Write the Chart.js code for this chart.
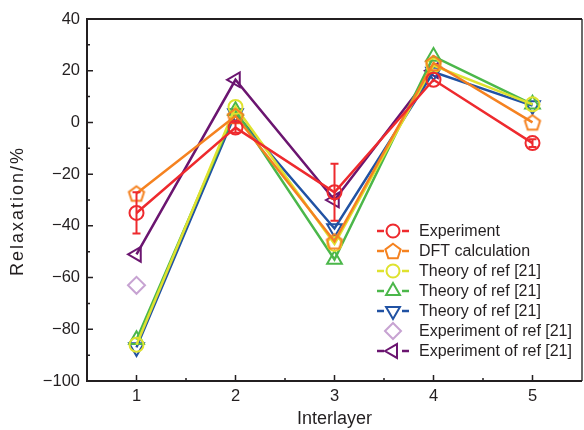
<!DOCTYPE html>
<html>
<head>
<meta charset="utf-8">
<script src="https://cdn.jsdelivr.net/npm/chart.js@4"></script>
<style>
  html, body { margin: 0; padding: 0; background: #fff; }
</style>
</head>
<body>
<canvas id="chart" width="584" height="430"></canvas>
<script>
// values
const interlayers = [1, 2, 3, 4, 5];
const experiment = [-35, -2, -27, 16.5, -8];
const experimentErr = [8, 2, 11, 0, 1.5];
const dftCalc = [-27.5, 2.5, -46, 23, 0];
const theoryCircle = [-86, 6, -47, 22, 7];
const theoryUp = [-84, 4.5, -53, 25.5, 7];
const theoryDown = [-87, 3.5, -41, 19.5, 6.5];
const expRefDiamond = [-63];
const expRefLeft = [-51, 16.5, -30, 20];

const xTicks = [1, 2, 3, 4, 5];
const yTicks = [-100, -80, -60, -40, -20, 0, 20, 40];

const FONT = '"Liberation Sans", Arial, sans-serif';
const AXIS = '#231f20';

// pentagon marker as an image, Chart.js has none built in
function pentagon(color, r) {
  const c = document.createElement('canvas');
  const s = Math.ceil(r * 2 + 4);
  c.width = s; c.height = s;
  const g = c.getContext('2d');
  g.strokeStyle = color;
  g.lineWidth = 2;
  g.beginPath();
  for (let i = 0; i < 5; i++) {
    const a = -Math.PI / 2 + i * 2 * Math.PI / 5;
    const px = s / 2 + r * Math.cos(a), py = s / 2 + r * Math.sin(a) + 0.8;
    i ? g.lineTo(px, py) : g.moveTo(px, py);
  }
  g.closePath();
  g.stroke();
  return c;
}

const pts = (ys) => ys.map((y, i) => ({ x: interlayers[i], y }));

const series = [
  { label: 'Experiment', data: experiment, color: '#ee2a2e', style: 'circle', r: 7, rot: 0 },
  { label: 'DFT calculation', data: dftCalc, color: '#f58220', style: pentagon('#f58220', 8), r: 8, rot: 0 },
  { label: 'Theory of ref [21]', data: theoryCircle, color: '#dfe22f', style: 'circle', r: 7, rot: 0 },
  { label: 'Theory of ref [21]', data: theoryUp, color: '#4bb74a', style: 'triangle', r: 8.5, rot: 0 },
  { label: 'Theory of ref [21]', data: theoryDown, color: '#2152a3', style: 'triangle', r: 8.5, rot: 180 },
  { label: 'Experiment of ref [21]', data: expRefDiamond, color: '#c7a3d2', style: 'rectRot', r: 8.5, rot: 0, noLine: true },
  { label: 'Experiment of ref [21]', data: expRefLeft, color: '#6b1570', style: 'triangle', r: 8.5, rot: 270 }
];

// box frame, inward ticks, error bars, y title and legend
const decor = {
  id: 'decor',
  afterDatasetsDraw(chart) {
    const ctx = chart.ctx;
    const xs = chart.scales.x, ys = chart.scales.y;
    const a = chart.chartArea;

    // error bars on the experiment
    ctx.save();
    ctx.strokeStyle = series[0].color;
    ctx.lineWidth = 2;
    experiment.forEach((v, i) => {
      const e = experimentErr[i];
      if (!e) return;
      const px = xs.getPixelForValue(interlayers[i]);
      const y1 = ys.getPixelForValue(v + e), y2 = ys.getPixelForValue(v - e);
      ctx.beginPath();
      ctx.moveTo(px, y1); ctx.lineTo(px, y2);
      ctx.moveTo(px - 4, y1); ctx.lineTo(px + 4, y1);
      ctx.moveTo(px - 4, y2); ctx.lineTo(px + 4, y2);
      ctx.stroke();
    });
    ctx.restore();

    // frame and ticks
    ctx.save();
    ctx.lineWidth = 2;
    ctx.strokeStyle = '#6b6b6b';
    ctx.beginPath();
    ctx.moveTo(a.right, a.top); ctx.lineTo(a.right, a.bottom);
    ctx.stroke();
    ctx.strokeStyle = AXIS;
    ctx.beginPath();
    ctx.moveTo(a.right, a.top); ctx.lineTo(a.left, a.top);
    ctx.lineTo(a.left, a.bottom); ctx.lineTo(a.right, a.bottom);
    ctx.stroke();
    ctx.lineWidth = 1.5;
    ctx.beginPath();
    for (let v = -90; v < 40; v += 10) {
      const py = ys.getPixelForValue(v);
      const len = v % 20 === 0 ? 6 : 3;
      ctx.moveTo(a.left, py); ctx.lineTo(a.left + len, py);
    }
    for (let v = 1; v <= 5; v += 0.5) {
      const px = xs.getPixelForValue(v);
      const len = Number.isInteger(v) ? 6 : 3;
      ctx.moveTo(px, a.bottom); ctx.lineTo(px, a.bottom - len);
    }
    ctx.stroke();
    ctx.restore();

    // y axis title, drawn here for its wider spacing
    ctx.save();
    ctx.translate(18, (a.top + a.bottom) / 2 + 11);
    ctx.rotate(-Math.PI / 2);
    ctx.font = '18px ' + FONT;
    ctx.letterSpacing = '2px';
    ctx.fillStyle = AXIS;
    ctx.textAlign = 'center';
    ctx.textBaseline = 'middle';
    ctx.fillText('Relaxation/%', 0, 0);
    ctx.restore();

    // legend
    ctx.save();
    ctx.font = '16px ' + FONT;
    ctx.textBaseline = 'middle';
    series.forEach((s, i) => {
      const y = 231 + i * 20;
      const mx = 393;
      ctx.strokeStyle = s.color;
      ctx.fillStyle = 'rgba(0,0,0,0)';
      ctx.lineWidth = 2.5;
      if (!s.noLine) {
        ctx.beginPath();
        ctx.moveTo(377, y); ctx.lineTo(384, y);
        ctx.moveTo(402, y); ctx.lineTo(409, y);
        ctx.stroke();
      }
      ctx.lineWidth = 2;
      if (typeof s.style !== 'string') {
        ctx.drawImage(s.style, mx - s.style.width / 2, y - s.style.height / 2);
      } else {
        Chart.helpers.drawPoint(ctx, { pointStyle: s.style, radius: s.r - 0.5, rotation: s.rot, borderWidth: 2 }, mx, y);
      }
      ctx.fillStyle = AXIS;
      ctx.fillText(s.label, 419, y + 1);
    });
    ctx.restore();
  }
};

new Chart(document.getElementById('chart').getContext('2d'), {
  type: 'line',
  data: {
    datasets: series.map(s => ({
      label: s.label,
      data: pts(s.data),
      borderColor: s.color,
      backgroundColor: 'rgba(0,0,0,0)',
      borderWidth: 2.5,
      showLine: !s.noLine,
      tension: 0,
      pointStyle: s.style,
      pointRadius: s.r,
      pointRotation: s.rot,
      pointBorderWidth: 2,
      pointBorderColor: s.color,
      pointBackgroundColor: 'rgba(0,0,0,0)'
    }))
  },
  options: {
    responsive: false,
    devicePixelRatio: 1,
    animation: false,
    layout: { autoPadding: false, padding: { top: 19, right: 2, left: 0, bottom: 0 } },
    plugins: { legend: { display: false }, tooltip: { enabled: false } },
    scales: {
      x: {
        type: 'linear',
        min: 0.5,
        max: 5.5,
        afterBuildTicks: s => { s.ticks = xTicks.map(v => ({ value: v })); },
        afterFit: s => { s.height = 49; s.paddingLeft = 0; s.paddingRight = 0; },
        grid: { display: false, drawTicks: false },
        border: { display: false },
        ticks: { color: AXIS, padding: 6, font: { family: FONT, size: 16.5 } },
        title: { display: true, text: 'Interlayer', color: AXIS, padding: { top: 0, bottom: 0 }, font: { family: FONT, size: 18 } }
      },
      y: {
        min: -100,
        max: 40,
        afterBuildTicks: s => { s.ticks = yTicks.map(v => ({ value: v })); },
        afterFit: s => { s.width = 87; s.paddingTop = 0; s.paddingBottom = 0; },
        grid: { display: false, drawTicks: false },
        border: { display: false },
        ticks: { color: AXIS, padding: 7, font: { family: FONT, size: 16.5 }, callback: v => String(v).replace('-', '\u2212') },
        title: { display: false }
      }
    }
  },
  plugins: [decor]
});
</script>
</body>
</html>
